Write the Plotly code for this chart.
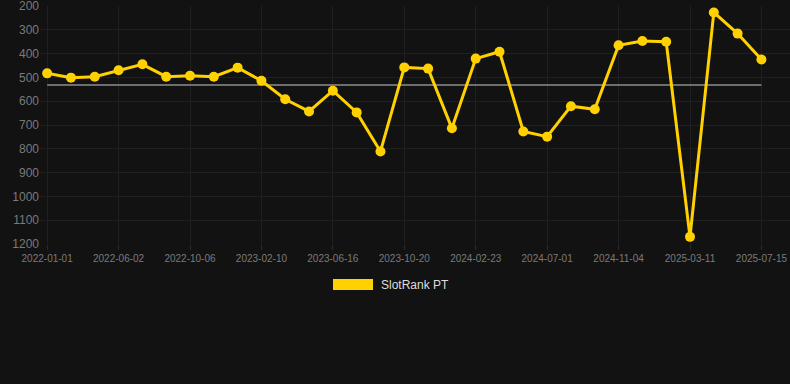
import plotly.graph_objects as go
import numpy as np

dates = ["2022-01-01", "2022-02-20", "2022-04-12", "2022-06-02", "2022-07-14", "2022-08-25",
         "2022-10-06", "2022-11-17", "2022-12-29", "2023-02-10", "2023-03-24", "2023-05-05",
         "2023-06-16", "2023-07-28", "2023-09-08", "2023-10-20", "2023-12-01", "2024-01-12",
         "2024-02-23", "2024-04-05", "2024-05-18", "2024-07-01", "2024-08-12", "2024-09-23",
         "2024-11-04", "2024-12-16", "2025-01-27", "2025-03-11", "2025-04-22", "2025-06-03",
         "2025-07-15"]
slotrank_pt = [483, 501, 497, 470, 445, 497, 493, 497, 459, 514,
               592, 643, 556, 647, 811, 458, 463, 714, 421, 392,
               727, 749, 621, 634, 365, 347, 350, 1170, 227, 316,
               425]
x_tick_labels = ["2022-01-01", "2022-06-02", "2022-10-06", "2023-02-10", "2023-06-16",
                 "2023-10-20", "2024-02-23", "2024-07-01", "2024-11-04", "2025-03-11",
                 "2025-07-15"]
y_ticks = [200, 300, 400, 500, 600, 700, 800, 900, 1000, 1100, 1200]
series_name = "SlotRank PT"

YELLOW = "#FFD100"
BG = "#121212"
TICK = "#7a7a7a"
mean_val = float(np.mean(slotrank_pt))

fig = go.Figure()
fig.add_trace(go.Scatter(
    x=[dates[0], dates[-1]], y=[mean_val, mean_val], mode="lines",
    line=dict(color="#6e6e6e", width=2), showlegend=False, hoverinfo="skip"))
fig.add_trace(go.Scatter(
    x=dates, y=slotrank_pt, mode="lines+markers", name=series_name,
    line=dict(color=YELLOW, width=3),
    marker=dict(color=YELLOW, size=10), showlegend=False, cliponaxis=False))

# legend drawn manually (wide colour box + label)
W, H = 790, 384
ml, mr, mt, mb = 40, 0, 6, 140
pw, ph = W - ml - mr, H - mt - mb
def px(x):
    return (x - ml) / pw
def py(y):
    return (ph + mt - y) / ph
fig.add_shape(type="rect", xref="paper", yref="paper",
              x0=px(333), x1=px(373), y0=py(290), y1=py(279),
              fillcolor=YELLOW, line=dict(width=0))
fig.add_annotation(xref="paper", yref="paper", x=px(379), y=py(285),
                   text=series_name, showarrow=False, xanchor="left", yanchor="middle",
                   font=dict(color="#dddddd", size=12, family="Liberation Sans, Arial, sans-serif"))

fig.update_layout(
    width=W, height=H,
    margin=dict(l=ml, r=mr, t=mt, b=mb),
    paper_bgcolor=BG, plot_bgcolor=BG,
    font=dict(family="Liberation Sans, Arial, sans-serif", color=TICK),
    showlegend=False,
    xaxis=dict(type="category", categoryorder="array", categoryarray=dates,
               range=[-0.3, 31.2], tickmode="array", tickvals=x_tick_labels,
               ticktext=x_tick_labels, tickfont=dict(size=10, color=TICK),
               showgrid=True, gridcolor="#202020", gridwidth=1, zeroline=False,
               showline=False, ticks="outside", ticklen=5, tickcolor="#2a2a2a"),
    yaxis=dict(range=[1200, 200], tickmode="array", tickvals=y_ticks,
               tickfont=dict(size=12, color=TICK), ticklabeloverflow="allow",
               showgrid=True, gridcolor="#202020", gridwidth=1, zeroline=False,
               showline=False, ticks=""),
)
fig.write_html("out.html", config={"displayModeBar": False},
               post_script="document.body.style.margin='0';document.body.style.background='#121212';")
